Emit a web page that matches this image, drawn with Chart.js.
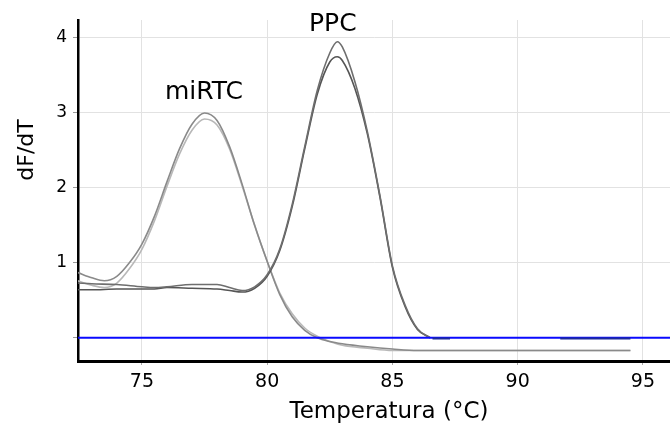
<!DOCTYPE html>
<html>
<head>
<title>Melt curve dF/dT</title>
<script src="https://cdn.jsdelivr.net/npm/chart.js"></script>
<style>
  body { margin: 0; background: #fff; }
  #chartContainer { width: 670px; height: 433px; }
</style>
</head>
<body>
  <div id="chartContainer">
    <canvas id="meltChart" width="670" height="433"></canvas>
  </div>

  <script>
    // Values
    const mirtcTemp = [72.45, 73, 73.5, 74, 74.5, 75, 75.5, 76, 76.5, 77, 77.5, 78, 78.5, 79, 79.5, 80, 80.5, 81, 81.5, 82, 82.5, 83, 84, 85, 86, 94.5];
    const mirtcA = [0.87, 0.80, 0.76, 0.82, 1.00, 1.25, 1.62, 2.08, 2.52, 2.85, 3.00, 2.90, 2.55, 2.05, 1.50, 1.02, 0.58, 0.28, 0.10, 0.00, -0.05, -0.08, -0.12, -0.15, -0.17, -0.17];
    const mirtcB = [0.76, 0.70, 0.67, 0.73, 0.92, 1.18, 1.56, 2.02, 2.45, 2.77, 2.92, 2.84, 2.52, 2.03, 1.50, 1.02, 0.60, 0.32, 0.13, 0.02, -0.05, -0.10, -0.14, -0.17, -0.17, -0.17];

    const ppcTemp = [72.45, 73, 74, 75, 75.5, 76, 77, 78, 78.5, 79, 79.5, 80, 80.5, 81, 81.5, 82, 82.5, 82.8, 83, 83.5, 84, 84.5, 85, 85.5, 86, 86.5];
    const ppcA = [0.73, 0.72, 0.71, 0.68, 0.67, 0.68, 0.71, 0.71, 0.67, 0.63, 0.68, 0.84, 1.18, 1.78, 2.55, 3.30, 3.80, 3.95, 3.88, 3.42, 2.75, 1.90, 0.96, 0.44, 0.12, 0.00];
    const ppcB = [0.64, 0.64, 0.65, 0.65, 0.65, 0.67, 0.66, 0.65, 0.63, 0.61, 0.66, 0.82, 1.16, 1.75, 2.52, 3.25, 3.68, 3.75, 3.70, 3.33, 2.72, 1.88, 0.94, 0.42, 0.11, 0.00];

    // PPC tail lying on the threshold
    const tailTemp = [86.6, 87.3, 89.5, 91.7, 94.5];
    const tailVal = [-0.01, -0.01, null, -0.01, -0.01];

    const thresholdTemp = [72.45, 96.08];
    const thresholdVal = [0, 0];

    const xTicks = [75, 80, 85, 90, 95];
    const yTicks = [0, 1, 2, 3, 4];
    const yTickLabels = ['', '1', '2', '3', '4'];

    const labels = [
      { text: 'miRTC', x: 77.48, y: 3.27 },
      { text: 'PPC', x: 82.62, y: 4.18 }
    ];

    const FONT = "'DejaVu Sans', sans-serif";

    function pts(xs, ys) {
      return xs.map((x, i) => ({ x: x, y: ys[i] }));
    }

    function curve(data, color, width) {
      return {
        data: data,
        borderColor: color,
        borderWidth: width || 1.6,
        pointRadius: 0,
        fill: false,
        cubicInterpolationMode: 'monotone',
        spanGaps: false
      };
    }

    // titles and curve names drawn on top
    const textPlugin = {
      id: 'textPlugin',
      afterDraw(chart) {
        const ctx = chart.ctx;
        const xs = chart.scales.x;
        const ys = chart.scales.y;
        ctx.save();
        ctx.fillStyle = '#000';
        ctx.textAlign = 'center';
        ctx.textBaseline = 'middle';
        ctx.font = '25px ' + FONT;
        labels.forEach(l => {
          ctx.fillText(l.text, xs.getPixelForValue(l.x), ys.getPixelForValue(l.y));
        });
        ctx.font = '23px ' + FONT;
        ctx.fillText('Temperatura (°C)', 389, 412);
        ctx.translate(27, 150);
        ctx.rotate(-Math.PI / 2);
        ctx.font = '22px ' + FONT;
        ctx.fillText('dF/dT', 0, 0);
        ctx.restore();
      }
    };

    const ctx = document.getElementById('meltChart').getContext('2d');

    new Chart(ctx, {
      type: 'line',
      data: {
        datasets: [
          curve(pts(tailTemp, tailVal), '#1c2a9c', 2),
          curve(pts(thresholdTemp, thresholdVal), '#0a0aff', 1.8),
          curve(pts(ppcTemp, ppcA), '#6e6e6e'),
          curve(pts(ppcTemp, ppcB), '#555555'),
          curve(pts(mirtcTemp, mirtcA), '#8a8a8a'),
          curve(pts(mirtcTemp, mirtcB), '#b8b8b8')
        ]
      },
      options: {
        responsive: false,
        animation: false,
        layout: { padding: { top: 20, left: 0, right: 0, bottom: 0 } },
        plugins: {
          legend: { display: false },
          tooltip: { enabled: false }
        },
        scales: {
          x: {
            type: 'linear',
            min: 72.45,
            max: 96.08,
            afterBuildTicks: (scale) => { scale.ticks = xTicks.map(v => ({ value: v })); },
            afterFit: (scale) => { scale.height = 72; },
            ticks: {
              color: '#000',
              padding: 6,
              font: { family: FONT, size: 19 },
              callback: (value) => String(value)
            },
            grid: {
              color: '#e2e2e2',
              tickColor: '#aaa',
              tickLength: 4
            },
            border: { color: '#000', width: 3 }
          },
          y: {
            min: -0.31,
            max: 4.24,
            afterBuildTicks: (scale) => { scale.ticks = yTicks.map(v => ({ value: v })); },
            afterFit: (scale) => { scale.width = 78; },
            ticks: {
              color: '#000',
              padding: 6,
              font: { family: FONT, size: 17 },
              callback: (value, index) => yTickLabels[index]
            },
            grid: {
              color: '#e2e2e2',
              tickColor: '#999',
              tickLength: 5
            },
            border: { color: '#000', width: 2.5 }
          }
        }
      },
      plugins: [textPlugin]
    });
  </script>
</body>
</html>
